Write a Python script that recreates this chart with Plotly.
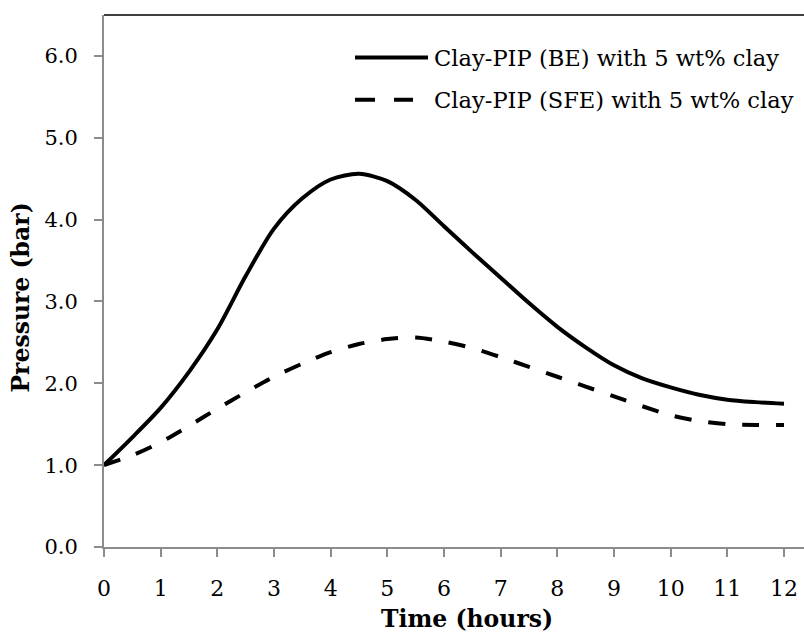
import plotly.graph_objects as go

# Data
time_be = [0, 0.5, 1, 1.5, 2, 2.5, 3, 3.5, 4, 4.5, 5, 5.5, 6, 6.5, 7, 7.5, 8, 8.5, 9, 9.5, 10, 10.5, 11, 11.5, 12]
pressure_be = [1.0, 1.34, 1.70, 2.14, 2.66, 3.31, 3.89, 4.26, 4.49, 4.56, 4.47, 4.24, 3.92, 3.60, 3.29,
               2.98, 2.69, 2.44, 2.22, 2.06, 1.95, 1.86, 1.80, 1.77, 1.75]

time_sfe = [0, 0.5, 1, 1.5, 2, 2.5, 3, 3.5, 4, 4.5, 5, 5.5, 6, 6.5, 7, 7.5, 8, 8.5, 9, 9.5, 10, 10.5, 11, 11.5, 12]
pressure_sfe = [1.0, 1.12, 1.28, 1.48, 1.69, 1.89, 2.08, 2.24, 2.38, 2.48, 2.54, 2.56, 2.51, 2.43, 2.32,
                2.20, 2.08, 1.96, 1.84, 1.72, 1.61, 1.54, 1.50, 1.49, 1.49]

name_be = "Clay-PIP (BE) with 5 wt% clay"
name_sfe = "Clay-PIP (SFE) with 5 wt% clay"

x_ticks = list(range(0, 13))
y_ticks = [0, 1, 2, 3, 4, 5, 6]
y_tick_text = ["0.0", "1.0", "2.0", "3.0", "4.0", "5.0", "6.0"]

FONT = "DejaVu Serif"
AXIS_GREY = "#8c8c8c"

fig = go.Figure()
fig.add_trace(go.Scatter(x=time_be, y=pressure_be, mode="lines", name=name_be,
                         line=dict(color="black", width=4, shape="spline", smoothing=0.8),
                         showlegend=False))
fig.add_trace(go.Scatter(x=time_sfe, y=pressure_sfe, mode="lines", name=name_sfe,
                         line=dict(color="black", width=4, shape="spline", smoothing=0.8,
                                   dash="17px,17px"),
                         showlegend=False))

fig.update_layout(
    width=804, height=632,
    margin=dict(l=104, r=0, t=15, b=85),
    paper_bgcolor="white", plot_bgcolor="white",
    font=dict(family=FONT, color="black", size=22),
    xaxis=dict(range=[0, 12.353], tickvals=x_ticks, ticktext=[str(v) for v in x_ticks],
               showgrid=False, zeroline=False, showline=True, linecolor=AXIS_GREY, linewidth=2,
               ticks="outside", ticklen=8, tickwidth=2, tickcolor=AXIS_GREY,
               ticklabelstandoff=13, tickfont=dict(size=22, family=FONT)),
    yaxis=dict(range=[0, 6.5], tickvals=y_ticks, ticktext=y_tick_text,
               showgrid=False, zeroline=False, showline=True, linecolor=AXIS_GREY, linewidth=2,
               ticks="outside", ticklen=8, tickwidth=2, tickcolor=AXIS_GREY,
               ticklabelstandoff=12, tickfont=dict(size=21, family=FONT)),
)

# top frame line
fig.add_shape(type="line", xref="paper", yref="paper", x0=0, x1=1, y0=1, y1=1,
              line=dict(color="black", width=1.5))

# custom legend
fig.add_shape(type="line", xref="paper", yref="paper", x0=0.3586, x1=0.4629, y0=0.920, y1=0.920,
              line=dict(color="black", width=4))
fig.add_shape(type="line", xref="paper", yref="paper", x0=0.3586, x1=0.4414, y0=0.8406, y1=0.8406,
              line=dict(color="black", width=4, dash="20px,19px"))
fig.add_annotation(xref="paper", yref="paper", x=0.4686, y=0.920, text=name_be,
                   showarrow=False, xanchor="left", yanchor="middle",
                   font=dict(size=22.6, family=FONT))
fig.add_annotation(xref="paper", yref="paper", x=0.4686, y=0.8406, text=name_sfe,
                   showarrow=False, xanchor="left", yanchor="middle",
                   font=dict(size=22.6, family=FONT))

# axis titles
fig.add_annotation(xref="paper", yref="paper", x=0.518, y=-0.135, text="<b>Time (hours)</b>",
                   showarrow=False, xanchor="center", yanchor="middle",
                   font=dict(size=23.5, family=FONT))
fig.add_annotation(xref="paper", yref="paper", x=-0.118, y=0.4696, text="<b>Pressure (bar)</b>",
                   showarrow=False, xanchor="center", yanchor="middle", textangle=-90,
                   font=dict(size=23.5, family=FONT))

fig.write_html("out.html", config={"displayModeBar": False},
               post_script="document.body.style.margin='0';")
